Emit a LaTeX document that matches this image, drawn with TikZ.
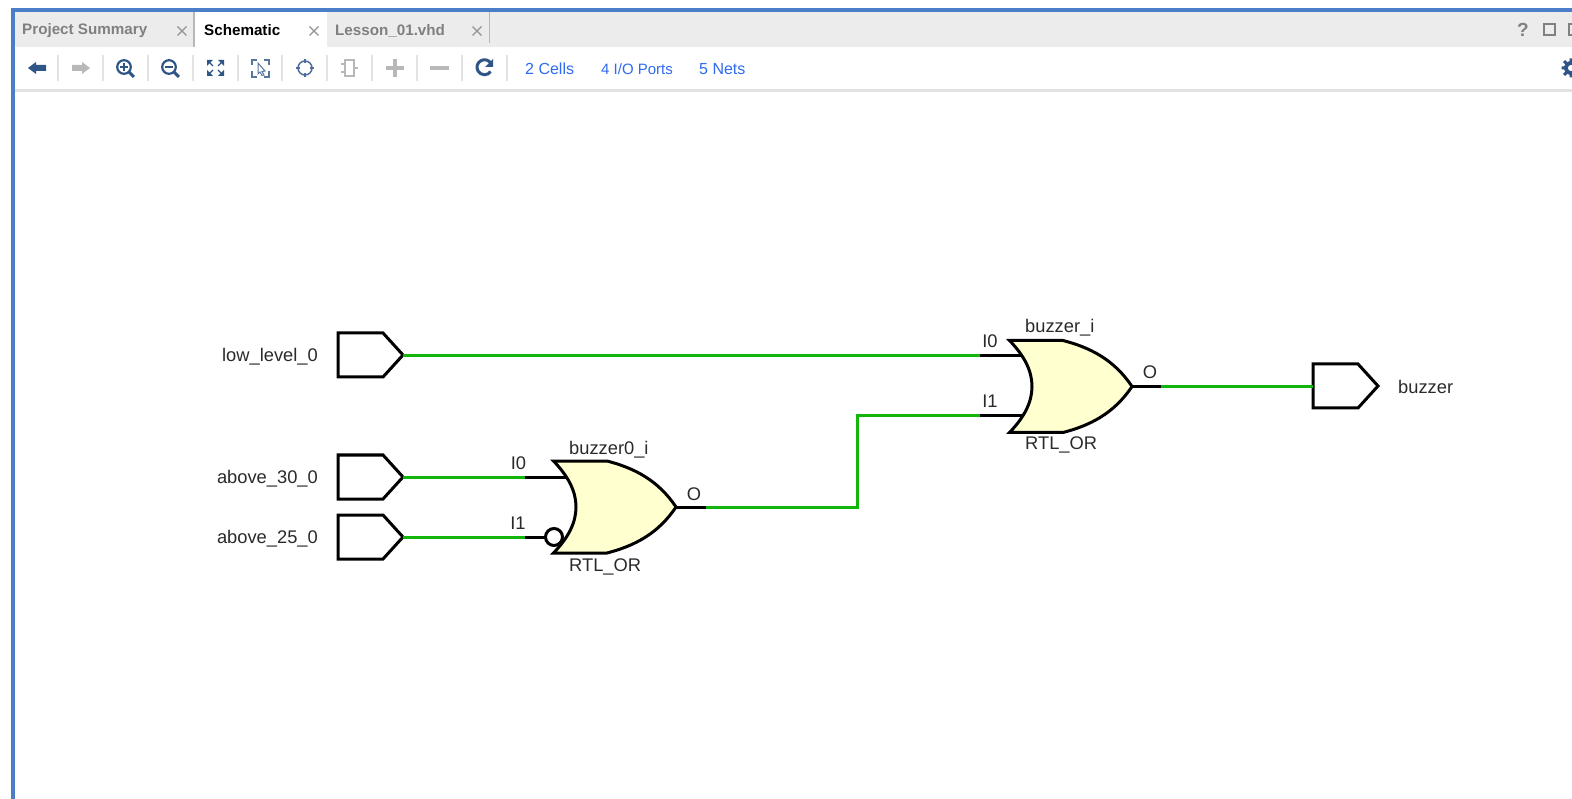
\documentclass[tikz,border=0pt]{standalone}
\usepackage{fontspec}
\setmainfont{Liberation Sans}
\definecolor{frameblue}{HTML}{4A7EC8}
\definecolor{tabgray}{HTML}{ECECEC}
\definecolor{sepgray}{HTML}{E2E2E2}
\definecolor{tabtext}{HTML}{808080}
\definecolor{iconblue}{HTML}{2F5587}
\definecolor{icongray}{HTML}{B8B8B8}
\definecolor{linkblue}{HTML}{2F6BF0}
\definecolor{netgreen}{HTML}{12B50A}
\definecolor{gatefill}{HTML}{FFFFCF}
\definecolor{labeltext}{HTML}{2A2A2A}
\tikzset{
  x=1pt,y=-1pt,
  lbl/.style={font=\fontsize{18.3}{18}\selectfont,text=labeltext,inner sep=0pt},
  tabt/.style={font=\fontsize{15.2}{16}\selectfont\bfseries,text=tabtext,inner sep=0pt,anchor=west},
  link/.style={font=\fontsize{16}{16}\selectfont,text=linkblue,inner sep=0pt,anchor=west},
  net/.style={netgreen,line width=3pt},
  pin/.style={black,line width=3pt},
  sym/.style={draw=black,line width=3pt,line join=miter},
  gate/.style={draw=black,line width=3pt,fill=gatefill,line join=miter},
  sep/.style={sepgray,line width=1.3pt},
  icon/.style={iconblue,line width=2.2pt},
  dim/.style={icongray,line width=2.4pt},
  closex/.style={draw=gray!85,line width=1.4pt},
}
\newcommand{\portshape}[2]{% left x, top y
  \draw[sym] (#1,#2) -- ++(45,0) -- ++(20,22) -- ++(-20,22) -- ++(-65+20,0) -- cycle;}
\newcommand{\orgate}[2]{% tip x, tip y
  \draw[gate] (#1-122.5,#2-46) -- (#1-69,#2-46)
     .. controls (#1-42,#2-39) and (#1-18,#2-27) .. (#1,#2)
     .. controls (#1-18,#2+27) and (#1-42,#2+39) .. (#1-69,#2+46)
     -- (#1-122.5,#2+46)
     .. controls (#1-107,#2+30) and (#1-100,#2+15) .. (#1-100,#2)
     .. controls (#1-100,#2-15) and (#1-107,#2-30) .. cycle;}
\newcommand{\closemark}[2]{\draw[closex] (#1-4.5,#2-4.5) -- (#1+4.5,#2+4.5) (#1-4.5,#2+4.5) -- (#1+4.5,#2-4.5);}
\begin{document}
\begin{tikzpicture}
\useasboundingbox (0,0) rectangle (1572,799);
\fill[white] (0,0) rectangle (1572,799);
% window chrome
\fill[tabgray] (15,12) rectangle (1572,47);
\fill[white] (195,12) rectangle (327,47);
\fill[frameblue] (11,8) rectangle (1572,12);
\fill[frameblue] (11,8) rectangle (15,799);
\fill[sepgray] (15,89) rectangle (1572,92);
\fill[icongray] (192.5,12) rectangle (195,47);
\fill[icongray] (488.5,12) rectangle (490,43);
% tabs
\node[tabt] at (22,30.5) {Project Summary};
\closemark{182}{31}
\node[tabt,text=black] at (204,30.5) {Schematic};
\closemark{314}{31}
\node[tabt] at (335,30.5) {Lesson\_01.vhd};
\closemark{477}{31}
% toolbar separators
\foreach \sx in {58,103,148,193,238,282,327,372,417,462,507}
  \draw[sep] (\sx,55) -- (\sx,81);
% back and forward arrows
\fill[iconblue] (28,68) -- (36,62) -- (36,65) -- (46,65) -- (46,71) -- (36,71) -- (36,74) -- cycle;
\fill[icongray] (90,68) -- (82,62) -- (82,65) -- (72,65) -- (72,71) -- (82,71) -- (82,74) -- cycle;
% zoom in, zoom out
\draw[icon] (124,67) circle (6.8);
\draw[icon,line width=3pt] (129,72) -- (134,77);
\draw[icon,line width=1.5pt] (120,67) -- (128,67) (124,63) -- (124,71);
\draw[icon] (169,67) circle (6.8);
\draw[icon,line width=3pt] (174,72) -- (179,77);
\draw[icon,line width=1.5pt] (165,67) -- (173,67);
% fit view
\fill[iconblue] (207,60) -- (213,60) -- (207,66) -- cycle;
\fill[iconblue] (224,60) -- (218,60) -- (224,66) -- cycle;
\fill[iconblue] (207,76) -- (213,76) -- (207,70) -- cycle;
\fill[iconblue] (224,76) -- (218,76) -- (224,70) -- cycle;
\draw[iconblue,line width=1.4pt] (209,62) -- (213,66) (222,62) -- (218,66) (209,74) -- (213,70) (222,74) -- (218,70);
% fit selection
\draw[iconblue!80,line width=1.4pt] (252,65) -- (252,60) -- (257,60) (264,60) -- (269,60) -- (269,65) (252,71) -- (252,77) -- (257,77) (264,77) -- (269,77) -- (269,71);
\draw[iconblue!80,line width=1pt,fill=white] (258,63) -- (265,71) -- (262,71.5) -- (264,75) -- (262,75.5) -- (260,72) -- (258,74) -- cycle;
% autofit / target
\draw[iconblue!85,line width=1.5pt] (305,68) circle (7);
\draw[iconblue!85,line width=1.5pt] (305,59) -- (305,63) (305,73) -- (305,77) (296,68) -- (300,68) (310,68) -- (314,68);
% cell icon
\draw[dim,line width=1.3pt] (345,60) rectangle (354,76);
\draw[dim,line width=1.3pt] (341,64) -- (345,64) (341,72) -- (345,72) (354,68) -- (358,68);
% plus, minus
\draw[dim,line width=3.5pt] (386,68) -- (404,68) (395,59) -- (395,77);
\draw[dim,line width=3.5pt] (430,68) -- (449,68);
% refresh
\draw[icon,line width=3pt] (491,63.5) arc[start angle=-30,end angle=-325,radius=7.5];
\fill[iconblue] (493,59) -- (493,67) -- (485,67) -- cycle;
% links
\node[link] at (525,69) {2 Cells};
\node[link,font=\fontsize{15}{16}\selectfont] at (601,69) {4 I/O Ports};
\node[link] at (699,69) {5 Nets};
% right-hand window controls
\node[font=\fontsize{19}{19}\selectfont\bfseries,text=gray,inner sep=0pt] at (1523,30) {?};
\draw[gray,line width=2pt] (1543.5,24.5) rectangle (1554.5,35.5);
\begin{scope}
  \clip (1555,10) rectangle (1572,90);
  \draw[gray,line width=2pt] (1569,24.5) rectangle (1580,35.5);
  \draw[iconblue,line width=3.5pt] (1571,68) circle (5.5);
  \draw[iconblue,line width=3pt] (1571,58.5) -- (1571,77.5) (1561.5,68) -- (1580,68) (1564,61) -- (1578,75) (1564,75) -- (1578,61);
  \fill[white] (1571,68) circle (3);
\end{scope}
% ports
\portshape{338}{333}
\portshape{338}{455}
\portshape{338}{515}
\portshape{1313}{364}
\coordinate (pLow) at (403,355.5);
\coordinate (pA30) at (403,477);
\coordinate (pA25) at (403,537);
\coordinate (pBuz) at (1313,386.5);
\node[lbl,anchor=east] (nLow) at (318,357) {low\_level\_0};
\node[lbl,anchor=east] (nA30) at (318,479) {above\_30\_0};
\node[lbl,anchor=east] (nA25) at (318,539) {above\_25\_0};
\node[lbl,anchor=west] (nBuz) at (1398,387) {buzzer};
% pin stubs of gate 1
\coordinate (g1a) at (525,477);
\coordinate (g1ai) at (572,477);
\coordinate (g1b) at (525,537);
\coordinate (g1bi) at (554,537);
\coordinate (g1t) at (676,507);
\coordinate (g1o) at (706,507);
% pin stubs of gate 2
\coordinate (g2a) at (980,355.5);
\coordinate (g2ai) at (1026,355.5);
\coordinate (g2b) at (980,415.5);
\coordinate (g2bi) at (1024,415.5);
\coordinate (g2t) at (1132,386.5);
\coordinate (g2o) at (1161,386.5);
\coordinate (bendA) at (857,507);
\coordinate (bendB) at (857,415.5);
\draw[pin] (g1a) -- (g1ai);
\draw[pin] (g1b) -- (g1bi);
\draw[pin] (g1t) -- (g1o);
\draw[pin] (g2a) -- (g2ai);
\draw[pin] (g2b) -- (g2bi);
\draw[pin] (g2t) -- (g2o);
% gates
\orgate{676}{507}
\orgate{1132}{386.5}
\draw[draw=black,line width=3pt,fill=white] (554,537) circle (8.5);
% nets
\draw[net] (pLow) -- (g2a);
\draw[net] (pA30) -- (g1a);
\draw[net] (pA25) -- (g1b);
\draw[net,line join=miter] (g1o) -- (bendA) -- (bendB) -- (g2b);
\draw[net] (g2o) -- (pBuz);
% gate labels
\node[lbl] (a1) at (518.5,463) {I0};
\node[lbl] (a2) at (518,523) {I1};
\node[lbl] (a3) at (694,494) {O};
\node[lbl,anchor=west] (a4) at (569,450) {buzzer0\_i};
\node[lbl,anchor=west] (a5) at (569,567) {RTL\_OR};
\node[lbl] (b1) at (990,341.5) {I0};
\node[lbl] (b2) at (990,401.5) {I1};
\node[lbl] (b3) at (1150,372) {O};
\node[lbl,anchor=west] (b4) at (1025,328) {buzzer\_i};
\node[lbl,anchor=west] (b5) at (1025,445) {RTL\_OR};
\end{tikzpicture}
\end{document}
